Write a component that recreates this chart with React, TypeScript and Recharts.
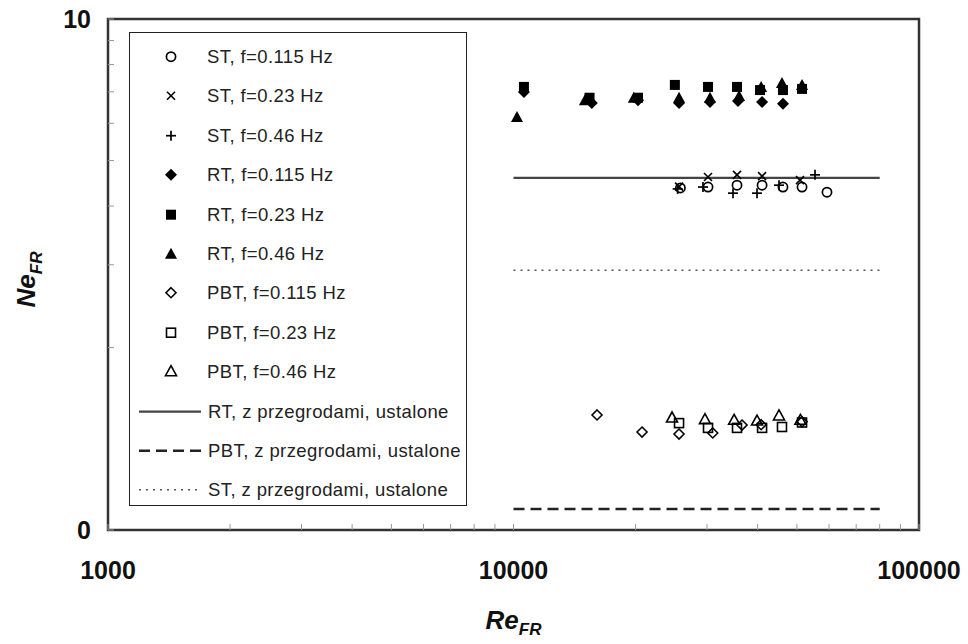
import React from "react";
import { ScatterChart, Scatter, XAxis, YAxis, ReferenceArea, Legend, Label } from "recharts";

// Re_FR vs Ne_FR, pairs
const stF115 = [[25800, 4.37], [30180, 4.39], [35580, 4.43], [41020, 4.43], [46190, 4.39], [51470, 4.39], [59300, 4.28]];
const stF23 = [[25600, 4.4], [30180, 4.61], [35580, 4.66], [41020, 4.63], [50880, 4.54]];
const stF46 = [[25400, 4.35], [29330, 4.39], [34780, 4.26], [39860, 4.26], [45160, 4.43], [55410, 4.66]];
const rtF115 = [[10610, 6.99], [15600, 6.63], [20280, 6.72], [25600, 6.63], [30520, 6.66], [35780, 6.69], [41020, 6.66], [46190, 6.6]];
const rtF23 = [[10610, 7.17], [15400, 6.8], [20280, 6.8], [25000, 7.24], [30180, 7.17], [35580, 7.17], [40550, 7.06], [46190, 7.06], [51470, 7.1]];
const rtF46 = [[10200, 6.19], [15000, 6.72], [19800, 6.8], [25600, 6.8], [30520, 6.8], [36000, 6.86], [40800, 7.17], [45930, 7.31], [51470, 7.24]];
const pbtF115 = [[16070, 1.437], [20750, 1.322], [25600, 1.309], [31000, 1.316], [36610, 1.368], [40800, 1.37], [51470, 1.39]];
const pbtF23 = [[25600, 1.381], [30180, 1.349], [35580, 1.349], [41020, 1.349], [45930, 1.355], [51470, 1.385]];
const pbtF46 = [[24600, 1.416], [29660, 1.405], [35000, 1.4], [39860, 1.395], [45160, 1.43], [51000, 1.4]];

// steady-state values (z przegrodami, ustalone)
const steadyRange = [10000, 80000];
const rtSteady = 4.59;
const pbtSteady = 0.907;
const stSteady = 2.92;

const Y_MIN = 0.818;
const xTicks = [1000, 2000, 3000, 4000, 5000, 6000, 7000, 8000, 9000, 10000, 20000, 30000, 40000, 50000, 60000, 70000, 80000, 90000, 100000];
const xLabels = [1000, 10000, 100000];
const yTicks = [Y_MIN, 2, 3, 4, 5, 6, 7, 8, 9, 10];

const toPts = (arr: number[][]) => arr.map(([x, y]) => ({ x, y }));
const flat = (y: number) => steadyRange.map((x) => ({ x, y }));

type Kind = "circle" | "x" | "plus" | "diamondF" | "squareF" | "triangleF" | "diamondO" | "squareO" | "triangleO";

function Marker({ cx, cy, kind }: { cx: number; cy: number; kind: Kind }) {
  const k = "#000";
  switch (kind) {
    case "circle":
      return <circle cx={cx} cy={cy} r={4.6} fill="#fff" stroke={k} strokeWidth={1.7} />;
    case "x":
      return (
        <g stroke={k} strokeWidth={1.6}>
          <line x1={cx - 4} y1={cy - 4} x2={cx + 4} y2={cy + 4} />
          <line x1={cx - 4} y1={cy + 4} x2={cx + 4} y2={cy - 4} />
        </g>
      );
    case "plus":
      return (
        <g stroke={k} strokeWidth={1.7}>
          <line x1={cx - 5} y1={cy} x2={cx + 5} y2={cy} />
          <line x1={cx} y1={cy - 5} x2={cx} y2={cy + 5} />
        </g>
      );
    case "diamondF":
      return <polygon points={`${cx},${cy - 6} ${cx + 6},${cy} ${cx},${cy + 6} ${cx - 6},${cy}`} fill={k} />;
    case "squareF":
      return <rect x={cx - 5} y={cy - 5} width={10} height={10} fill={k} />;
    case "triangleF":
      return <polygon points={`${cx},${cy - 6} ${cx + 6},${cy + 5} ${cx - 6},${cy + 5}`} fill={k} />;
    case "diamondO":
      return <polygon points={`${cx},${cy - 5} ${cx + 5},${cy} ${cx},${cy + 5} ${cx - 5},${cy}`} fill="#fff" stroke={k} strokeWidth={1.6} />;
    case "squareO":
      return <rect x={cx - 4.5} y={cy - 4.5} width={9} height={9} fill="none" stroke={k} strokeWidth={1.6} />;
    case "triangleO":
      return <polygon points={`${cx},${cy - 6} ${cx + 5.5},${cy + 4} ${cx - 5.5},${cy + 4}`} fill="none" stroke={k} strokeWidth={1.6} />;
  }
  return null;
}

const pointSeries: { name: string; kind: Kind; data: number[][] }[] = [
  { name: "ST, f=0.115 Hz", kind: "circle", data: stF115 },
  { name: "ST, f=0.23 Hz", kind: "x", data: stF23 },
  { name: "ST, f=0.46 Hz", kind: "plus", data: stF46 },
  { name: "RT, f=0.115 Hz", kind: "diamondF", data: rtF115 },
  { name: "RT, f=0.23 Hz", kind: "squareF", data: rtF23 },
  { name: "RT, f=0.46 Hz", kind: "triangleF", data: rtF46 },
  { name: "PBT, f=0.115 Hz", kind: "diamondO", data: pbtF115 },
  { name: "PBT, f=0.23 Hz", kind: "squareO", data: pbtF23 },
  { name: "PBT, f=0.46 Hz", kind: "triangleO", data: pbtF46 },
];

const lineSeries = [
  { name: "RT, z przegrodami, ustalone", y: rtSteady, dash: undefined as string | undefined, width: 2.2, color: "#444" },
  { name: "PBT, z przegrodami, ustalone", y: pbtSteady, dash: "11 6", width: 2.5, color: "#222" },
  { name: "ST, z przegrodami, ustalone", y: stSteady, dash: "2 5", width: 1.6, color: "#555" },
];

const ROW = 39.4;
const textStyle: React.CSSProperties = {
  position: "absolute",
  left: 77,
  top: 0,
  lineHeight: `${ROW}px`,
  fontSize: 18.5,
  letterSpacing: 0.4,
  color: "#222",
  fontFamily: "'Liberation Sans', Arial, sans-serif",
  whiteSpace: "nowrap",
};

function LegendBox() {
  return (
    <div style={{ width: 338, height: 474, boxSizing: "border-box", border: "1.5px solid #222", background: "#fff", paddingTop: 4 }}>
      {pointSeries.map((s) => (
        <div key={s.name} style={{ position: "relative", height: ROW }}>
          <svg width={77} height={ROW} style={{ position: "absolute", left: 0, top: 0 }}>
            <Marker cx={41} cy={ROW / 2} kind={s.kind} />
          </svg>
          <span style={textStyle}>{s.name}</span>
        </div>
      ))}
      {lineSeries.map((s) => (
        <div key={s.name} style={{ position: "relative", height: ROW }}>
          <svg width={77} height={ROW} style={{ position: "absolute", left: 0, top: 0 }}>
            <line x1={9} x2={71} y1={ROW / 2} y2={ROW / 2} stroke={s.color} strokeWidth={s.width} strokeDasharray={s.dash} />
          </svg>
          <span style={{ ...textStyle, left: 78 }}>{s.name}</span>
        </div>
      ))}
    </div>
  );
}

const axisFont = { fill: "#111", fontSize: 25, fontWeight: 700, fontFamily: "'Liberation Sans', Arial, sans-serif" };
const titleFont = { fill: "#111", fontSize: 26, fontWeight: 700, fontStyle: "italic", fontFamily: "'Liberation Sans', Arial, sans-serif" };

const renderYTitle = (props: any) => {
  const vb = props.viewBox || { x: 0, y: 19, width: 108, height: 511 };
  const x = vb.x + 35;
  const y = vb.y + vb.height / 2 + 5;
  return (
    <text x={x} y={y} transform={`rotate(-90, ${x}, ${y})`} textAnchor="middle" {...titleFont}>
      Ne<tspan fontSize={17} dy={7}>FR</tspan>
    </text>
  );
};

const renderXTitle = (props: any) => {
  const vb = props.viewBox || { x: 108, y: 530, width: 811, height: 114 };
  const x = vb.x + vb.width / 2;
  const y = vb.y + 99;
  return (
    <text x={x} y={y} textAnchor="middle" {...titleFont}>
      Re<tspan fontSize={17} dy={6}>FR</tspan>
    </text>
  );
};

export default function App() {
  return (
    <div style={{ position: "absolute", left: 0, top: 0, background: "#fff" }}>
      <ScatterChart width={968} height={644} margin={{ top: 19, right: 49, left: 0, bottom: 0 }}>
        <XAxis
          type="number"
          dataKey="x"
          scale="log"
          domain={[1000, 100000]}
          allowDataOverflow
          ticks={xTicks}
          interval={0}
          tickFormatter={(v: number) => (xLabels.includes(v) ? String(v) : "")}
          tick={axisFont}
          tickSize={-6}
          tickMargin={37}
          tickLine={{ stroke: "#999" }}
          axisLine={false}
          height={114}
        >
          <Label content={renderXTitle} />
        </XAxis>
        <YAxis
          type="number"
          dataKey="y"
          scale="log"
          domain={[Y_MIN, 10]}
          allowDataOverflow
          ticks={yTicks}
          interval={0}
          tickFormatter={(v: number) => (v >= 10 ? "10" : v < 1 ? "0" : "")}
          tick={axisFont}
          tickSize={-6}
          tickMargin={23}
          tickLine={{ stroke: "#999" }}
          axisLine={false}
          width={108}
        >
          <Label content={renderYTitle} />
        </YAxis>
        <ReferenceArea x1={1000} x2={100000} y1={Y_MIN} y2={10} fill="none" stroke="#333" strokeWidth={2.5} />
        {lineSeries.map((s) => (
          <Scatter
            key={s.name}
            name={s.name}
            data={flat(s.y)}
            line={{ stroke: s.color, strokeWidth: s.width, strokeDasharray: s.dash }}
            shape={() => <g />}
            isAnimationActive={false}
          />
        ))}
        {pointSeries.map((s) => (
          <Scatter
            key={s.name}
            name={s.name}
            data={toPts(s.data)}
            shape={(p: any) => <Marker cx={p.cx} cy={p.cy} kind={s.kind} />}
            isAnimationActive={false}
          />
        ))}
        <Legend
          layout="vertical"
          align="center"
          verticalAlign="middle"
          content={() => <LegendBox />}
          wrapperStyle={{ left: 129, top: 32, width: 338, height: 474 }}
        />
      </ScatterChart>
    </div>
  );
}
